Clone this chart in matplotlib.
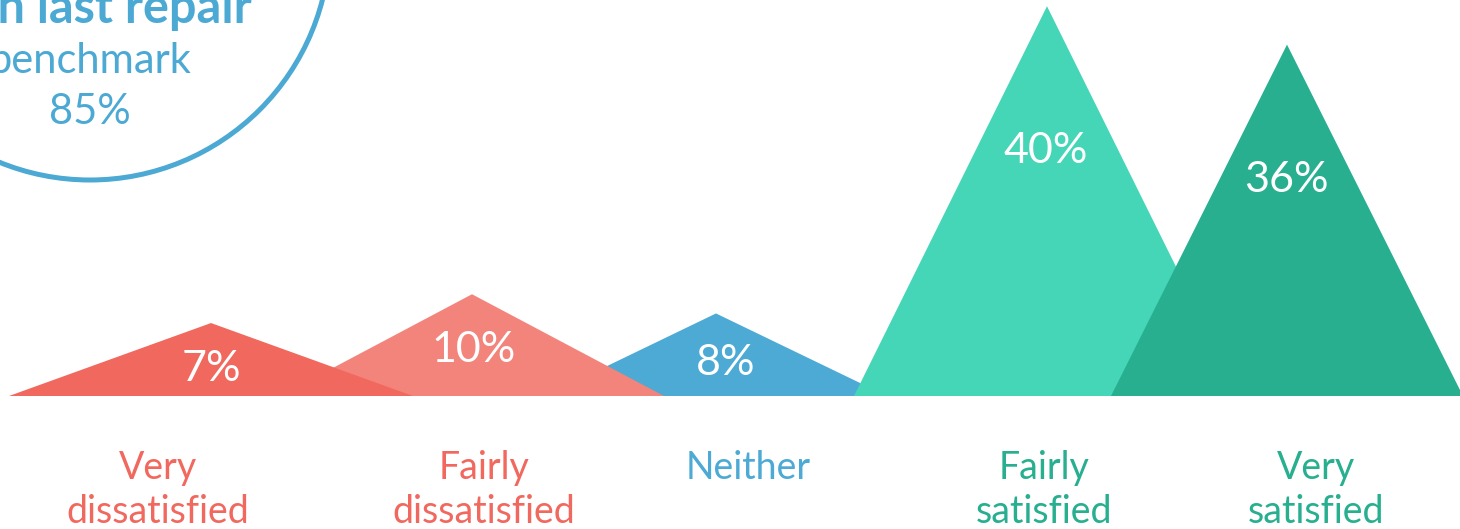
import matplotlib
matplotlib.use("Agg")
import matplotlib.pyplot as plt
from matplotlib.patches import Polygon, Ellipse

# ---- data ----
categories = ["Very\ndissatisfied", "Fairly\ndissatisfied", "Neither", "Fairly\nsatisfied", "Very\nsatisfied"]
values = [7, 10, 8, 40, 36]
value_labels = ["7%", "10%", "8%", "40%", "36%"]
benchmark_title = "with last repair"
benchmark_label = "benchmark"
benchmark_value = "85%"

# ---- style / layout ----
tri_colors = ["#F1685E", "#F3847B", "#4CAAD5", "#45D6B7", "#27AF90"]
text_colors = ["#F1685E", "#F1685E", "#4CAAD5", "#27AF90", "#27AF90"]
tri_centers = [211, 472, 716, 1047, 1287]
tri_halfw = [202, 192, 171, 193, 176]
tri_z = [3, 2, 1, 2, 3]
label_dx = [0, 2, 10, -1, -1]
label_drop = [58, 68, 62, 157, 147]      # px from apex to label baseline
cat_x = [158, 484, 748, 1044, 1316]
BLUE = "#4BA9D4"
FONT = "Lato"

W, H = 1460, 529
BASE_PX = 396      # baseline pixel row
K = 9.6            # pixels per percentage point
BASE = -0.6        # value at baseline


def py2v(py):
    return BASE + (BASE_PX - py) / K


fig = plt.figure(figsize=(W / 100, H / 100), dpi=100)
ax = fig.add_axes([0, 0, 1, 1])
ax.set_xlim(0, W)
ax.set_ylim(py2v(H), py2v(0))
ax.axis("off")

for i, v in enumerate(values):
    c, hw = tri_centers[i], tri_halfw[i]
    poly = Polygon([(c - hw, BASE), (c, v), (c + hw, BASE)], closed=True,
                   facecolor=tri_colors[i], edgecolor="none", zorder=tri_z[i])
    ax.add_patch(poly)
    ax.annotate(value_labels[i], xy=(c + label_dx[i], v), xytext=(0, -label_drop[i]),
                textcoords="offset pixels", ha="center", va="baseline",
                fontsize=31, color="white", family=FONT, zorder=10)

for i, cat in enumerate(categories):
    for j, line in enumerate(cat.split("\n")):
        ax.text(cat_x[i], py2v(479 + 44 * j), line, ha="center", va="baseline",
                fontsize=27, color=text_colors[i], family=FONT)

# benchmark circle
R = 240
circ = Ellipse((90, py2v(-60)), width=2 * R, height=2 * R / K, fill=False,
               edgecolor=BLUE, linewidth=3.6, zorder=5)
ax.add_patch(circ)
ax.text(90, py2v(23), benchmark_title, ha="center", va="baseline",
        fontsize=35, color=BLUE, fontweight="bold", family=FONT)
ax.text(90, py2v(73), benchmark_label, ha="center", va="baseline",
        fontsize=30, color=BLUE, family=FONT)
ax.text(90, py2v(124), benchmark_value, ha="center", va="baseline",
        fontsize=30, color=BLUE, family=FONT)

fig.savefig("out.png", dpi=100, facecolor="white")
